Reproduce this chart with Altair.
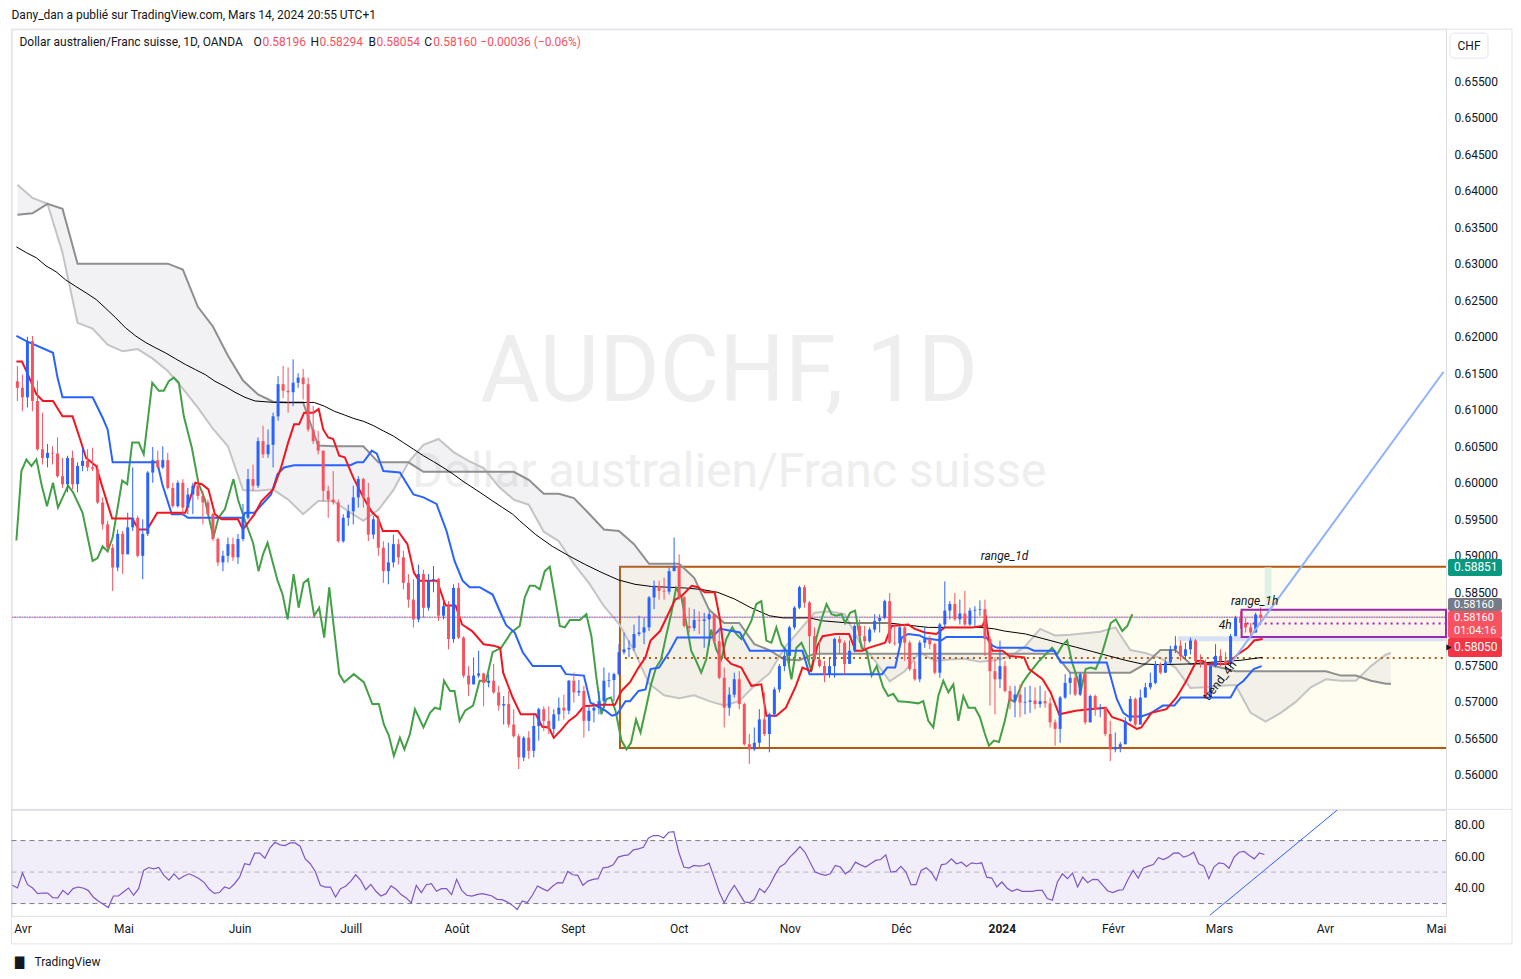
import altair as alt
import pandas as pd

FONT = "Roboto"
TXT = "#131722"

# ---------------- daily candles (bar index 0 = 3 Apr 2023, weekdays only) ----------------
BAR0 = -2
FIRST_OPEN = 0.6139
close = [
    0.6130, 0.6117, 0.6194, 0.6112, 0.6046, 0.6034, 0.6041, 0.6040, 0.6009, 0.5998,
    0.6034, 0.5998, 0.6023, 0.6030, 0.6021, 0.6019, 0.5973, 0.5943, 0.5911, 0.5884,
    0.5930, 0.5902, 0.5939, 0.5952, 0.5900, 0.5930, 0.6014, 0.6031, 0.6021, 0.6031,
    0.5993, 0.5968, 0.6000, 0.5966, 0.5984, 0.5996, 0.5982, 0.5973, 0.5957, 0.5923,
    0.5891, 0.5900, 0.5916, 0.5898, 0.5923, 0.5952, 0.6005, 0.5996, 0.6057, 0.6039,
    0.6052, 0.6091, 0.6135, 0.6126, 0.6124, 0.6137, 0.6144, 0.6135, 0.6073, 0.6057,
    0.6044, 0.5989, 0.5977, 0.5973, 0.5920, 0.5952, 0.5961, 0.5980, 0.6005, 0.5980,
    0.5929, 0.5950, 0.5911, 0.5879, 0.5891, 0.5916, 0.5898, 0.5863, 0.5840, 0.5813,
    0.5875, 0.5829, 0.5866, 0.5868, 0.5818, 0.5831, 0.5786, 0.5856, 0.5788, 0.5736,
    0.5724, 0.5736, 0.5739, 0.5726, 0.5729, 0.5713, 0.5695, 0.5697, 0.5669, 0.5653,
    0.5624, 0.5651, 0.5633, 0.5667, 0.5690, 0.5674, 0.5663, 0.5683, 0.5692, 0.5688,
    0.5729, 0.5713, 0.5715, 0.5674, 0.5688, 0.5692, 0.5701, 0.5729, 0.5730, 0.5738,
    0.5768, 0.5772, 0.5774, 0.5793, 0.5795, 0.5802, 0.5843, 0.5859, 0.5852, 0.5851,
    0.5879, 0.5886, 0.5843, 0.5804, 0.5801, 0.5812, 0.5811, 0.5813, 0.5820, 0.5783,
    0.5733, 0.5692, 0.5710, 0.5731, 0.5697, 0.5642, 0.5635, 0.5644, 0.5676, 0.5656,
    0.5683, 0.5717, 0.5749, 0.5763, 0.5802, 0.5829, 0.5857, 0.5836, 0.5790, 0.5758,
    0.5749, 0.5738, 0.5749, 0.5786, 0.5781, 0.5752, 0.5770, 0.5804, 0.5790, 0.5783,
    0.5799, 0.5811, 0.5815, 0.5838, 0.5781, 0.5780, 0.5802, 0.5781, 0.5745, 0.5731,
    0.5781, 0.5786, 0.5779, 0.5740, 0.5806, 0.5825, 0.5834, 0.5813, 0.5821, 0.5806,
    0.5825, 0.5826, 0.5827, 0.5786, 0.5742, 0.5731, 0.5749, 0.5715, 0.5701, 0.5710,
    0.5699, 0.5700, 0.5702, 0.5697, 0.5701, 0.5698, 0.5672, 0.5663, 0.5706, 0.5726,
    0.5733, 0.5710, 0.5738, 0.5672, 0.5708, 0.5690, 0.5692, 0.5656, 0.5635, 0.5638,
    0.5642, 0.5674, 0.5704, 0.5669, 0.5706, 0.5720, 0.5726, 0.5752, 0.5740, 0.5754,
    0.5772, 0.5777, 0.5763, 0.5772, 0.5784, 0.5756, 0.5754, 0.5706, 0.5749, 0.5763,
    0.5756, 0.5752, 0.5790, 0.5815, 0.5808, 0.5802, 0.5795, 0.58196, 0.58160,
]
high = [
    0.6160, 0.6148, 0.6200, 0.6201, 0.6140, 0.6096, 0.6053, 0.6050, 0.6062, 0.6034,
    0.6037, 0.6044, 0.6028, 0.6048, 0.6046, 0.6048, 0.6025, 0.5980, 0.5948, 0.5916,
    0.5936, 0.5934, 0.5959, 0.6021, 0.5955, 0.5950, 0.6016, 0.6049, 0.6044, 0.6050,
    0.6041, 0.6000, 0.6003, 0.6005, 0.5993, 0.6000, 0.6007, 0.5989, 0.5977, 0.5959,
    0.5925, 0.5907, 0.5925, 0.5925, 0.5930, 0.5971, 0.6019, 0.6025, 0.6062, 0.6078,
    0.6073, 0.6096, 0.6146, 0.6160, 0.6158, 0.6169, 0.6150, 0.6156, 0.6144, 0.6105,
    0.6071, 0.6044, 0.5996, 0.6016, 0.5977, 0.5957, 0.5970, 0.5996, 0.6009, 0.6007,
    0.6000, 0.5955, 0.5955, 0.5920, 0.5918, 0.5929, 0.5923, 0.5907, 0.5875, 0.5868,
    0.5888, 0.5881, 0.5875, 0.5886, 0.5870, 0.5843, 0.5838, 0.5861, 0.5863, 0.5790,
    0.5749, 0.5761, 0.5770, 0.5740, 0.5738, 0.5752, 0.5722, 0.5708, 0.5715, 0.5690,
    0.5656, 0.5653, 0.5660, 0.5685, 0.5692, 0.5694, 0.5694, 0.5690, 0.5706, 0.5710,
    0.5730, 0.5740, 0.5730, 0.5722, 0.5694, 0.5699, 0.5715, 0.5747, 0.5740, 0.5740,
    0.5779, 0.5795, 0.5784, 0.5806, 0.5818, 0.5815, 0.5845, 0.5866, 0.5866, 0.5870,
    0.5884, 0.5925, 0.5902, 0.5845, 0.5829, 0.5827, 0.5824, 0.5822, 0.5824, 0.5820,
    0.5802, 0.5747, 0.5720, 0.5740, 0.5742, 0.5699, 0.5656, 0.5665, 0.5690, 0.5713,
    0.5685, 0.5720, 0.5752, 0.5774, 0.5804, 0.5831, 0.5859, 0.5860, 0.5838, 0.5802,
    0.5784, 0.5756, 0.5761, 0.5788, 0.5790, 0.5784, 0.5784, 0.5806, 0.5813, 0.5804,
    0.5802, 0.5820, 0.5820, 0.5840, 0.5849, 0.5806, 0.5804, 0.5806, 0.5784, 0.5756,
    0.5784, 0.5802, 0.5790, 0.5781, 0.5808, 0.5865, 0.5838, 0.5849, 0.5840, 0.5852,
    0.5829, 0.5831, 0.5839, 0.5840, 0.5790, 0.5761, 0.5784, 0.5756, 0.5722, 0.5722,
    0.5724, 0.5720, 0.5722, 0.5720, 0.5722, 0.5715, 0.5706, 0.5676, 0.5708, 0.5738,
    0.5740, 0.5738, 0.5740, 0.5740, 0.5710, 0.5710, 0.5697, 0.5692, 0.5674, 0.5658,
    0.5645, 0.5679, 0.5708, 0.5706, 0.5717, 0.5726, 0.5740, 0.5756, 0.5754, 0.5758,
    0.5777, 0.5790, 0.5784, 0.5781, 0.5788, 0.5786, 0.5765, 0.5758, 0.5752, 0.5779,
    0.5772, 0.5768, 0.5793, 0.5818, 0.5824, 0.5815, 0.5808, 0.5822, 0.58294,
]
low = [
    0.6112, 0.6098, 0.6103, 0.6098, 0.6044, 0.6025, 0.6021, 0.6025, 0.6007, 0.5993,
    0.5987, 0.5991, 0.5987, 0.6016, 0.6016, 0.6016, 0.5971, 0.5936, 0.5907, 0.5852,
    0.5879, 0.5875, 0.5905, 0.5934, 0.5898, 0.5868, 0.5927, 0.6000, 0.6019, 0.6019,
    0.5991, 0.5966, 0.5966, 0.5955, 0.5957, 0.5957, 0.5977, 0.5943, 0.5955, 0.5920,
    0.5886, 0.5879, 0.5891, 0.5893, 0.5889, 0.5920, 0.5950, 0.5989, 0.5993, 0.6034,
    0.6034, 0.6021, 0.6085, 0.6116, 0.6096, 0.6105, 0.6130, 0.6114, 0.6070, 0.6053,
    0.6039, 0.5975, 0.5952, 0.5970, 0.5918, 0.5918, 0.5941, 0.5943, 0.5966, 0.5966,
    0.5920, 0.5923, 0.5900, 0.5863, 0.5861, 0.5884, 0.5888, 0.5854, 0.5829, 0.5802,
    0.5809, 0.5815, 0.5825, 0.5850, 0.5811, 0.5813, 0.5772, 0.5781, 0.5786, 0.5733,
    0.5708, 0.5724, 0.5733, 0.5694, 0.5720, 0.5711, 0.5688, 0.5669, 0.5665, 0.5651,
    0.5608, 0.5619, 0.5622, 0.5624, 0.5647, 0.5660, 0.5656, 0.5656, 0.5674, 0.5676,
    0.5683, 0.5699, 0.5708, 0.5651, 0.5660, 0.5672, 0.5683, 0.5692, 0.5720, 0.5701,
    0.5736, 0.5765, 0.5761, 0.5770, 0.5790, 0.5779, 0.5797, 0.5827, 0.5840, 0.5840,
    0.5847, 0.5879, 0.5840, 0.5802, 0.5795, 0.5797, 0.5793, 0.5774, 0.5777, 0.5780,
    0.5731, 0.5665, 0.5681, 0.5706, 0.5690, 0.5640, 0.5615, 0.5633, 0.5638, 0.5653,
    0.5631, 0.5679, 0.5713, 0.5742, 0.5752, 0.5799, 0.5827, 0.5829, 0.5756, 0.5756,
    0.5747, 0.5727, 0.5733, 0.5733, 0.5765, 0.5738, 0.5752, 0.5768, 0.5781, 0.5772,
    0.5781, 0.5795, 0.5795, 0.5813, 0.5779, 0.5777, 0.5779, 0.5756, 0.5742, 0.5729,
    0.5727, 0.5774, 0.5772, 0.5738, 0.5733, 0.5802, 0.5813, 0.5811, 0.5806, 0.5804,
    0.5804, 0.5804, 0.5818, 0.5763, 0.5695, 0.5683, 0.5719, 0.5713, 0.5690, 0.5679,
    0.5679, 0.5683, 0.5685, 0.5690, 0.5692, 0.5692, 0.5665, 0.5640, 0.5644, 0.5704,
    0.5710, 0.5708, 0.5708, 0.5669, 0.5672, 0.5681, 0.5679, 0.5653, 0.5619, 0.5631,
    0.5631, 0.5642, 0.5672, 0.5667, 0.5669, 0.5706, 0.5717, 0.5724, 0.5738, 0.5740,
    0.5752, 0.5767, 0.5756, 0.5758, 0.5765, 0.5754, 0.5747, 0.5704, 0.5704, 0.5747,
    0.5749, 0.5745, 0.5747, 0.5790, 0.5800, 0.5795, 0.5790, 0.5795, 0.58054,
]

# RSI (14) per bar, same bars as the candles
rsi = [
    41.6, 39.9, 49.4, 42.0, 39.9, 36.3, 36.7, 36.7, 33.8, 33.6,
    38.4, 35.7, 39.5, 40.5, 39.9, 38.4, 34.2, 31.7, 29.6, 27.5,
    34.8, 34.8, 37.4, 39.9, 35.3, 39.5, 51.1, 52.9, 52.1, 52.9,
    47.9, 44.9, 48.9, 45.4, 47.5, 48.9, 47.5, 45.8, 43.3, 39.1,
    36.5, 37.0, 40.5, 39.5, 42.6, 46.8, 55.3, 54.6, 62.0, 62.0,
    58.8, 65.2, 68.9, 67.3, 66.8, 68.5, 68.5, 66.4, 58.4, 55.3,
    50.4, 41.6, 40.5, 40.5, 34.2, 39.5, 41.0, 44.1, 48.3, 44.7,
    38.8, 42.2, 37.8, 34.8, 36.3, 41.2, 39.1, 35.7, 33.6, 30.4,
    41.6, 37.0, 42.0, 42.6, 37.8, 39.5, 39.5, 35.7, 45.4, 38.4, 35.3,
    34.8, 35.7, 36.3, 35.7, 34.8, 32.7, 32.5, 31.1, 29.0, 26.2,
    31.7, 30.6, 35.3, 41.2, 39.5, 38.0, 41.0, 43.3, 43.1, 50.4,
    48.3, 47.9, 41.6, 44.3, 45.4, 45.8, 52.7, 53.2, 54.6, 59.5,
    60.5, 60.9, 64.1, 64.7, 65.8, 71.7, 73.2, 73.2, 71.7, 75.3, 75.7,
    62.6, 53.2, 52.5, 54.2, 53.8, 54.2, 55.7, 46.8, 37.4, 30.4,
    36.7, 41.6, 36.3, 31.1, 30.6, 32.7, 39.5,
    37.0, 41.6, 47.9, 53.2, 55.3, 59.5, 62.6, 66.2, 62.6, 56.3,
    50.0, 48.9, 47.9, 48.9, 54.2, 53.2, 48.9, 51.1, 56.3, 54.6,
    53.2, 55.3, 57.4, 58.0, 60.9, 50.0, 50.4, 53.6, 50.0, 42.0,
    42.0, 51.1, 52.7, 50.0, 44.7, 54.6, 55.3, 58.4, 55.3, 56.3,
    53.6, 55.9, 55.3, 55.9, 46.8, 46.2, 40.5, 43.7, 39.9, 37.8,
    39.1, 37.8, 37.8, 37.8, 38.4, 38.4, 33.2, 32.1, 43.7, 48.9,
    45.8, 49.4, 40.5, 46.8, 43.3, 45.4, 45.2, 41.6, 38.0, 37.0,
    38.4, 38.8, 45.4, 51.1, 46.2, 52.5, 53.8, 54.8, 59.1, 58.0,
    59.5, 62.0, 62.2, 59.5, 60.5, 62.6, 55.3, 53.8, 45.8, 53.2,
    55.9, 55.3, 52.5, 59.5, 62.6, 63.1, 60.5, 58.4, 62.2, 61.2,
]

# ---------------- indicator lines: (bar, price) ----------------
tenkan = [(-2.2, 0.6166), (-1.1, 0.6166), (-0.2, 0.6153), (1.8, 0.6121), (3.1, 0.6112), (5.1, 0.6112),
          (7, 0.6091), (9, 0.6091), (10.4, 0.6062), (11.7, 0.6034), (13.7, 0.6023), (15, 0.5993),
          (16.9, 0.5951), (20.9, 0.5951), (22.2, 0.5936), (23.9, 0.5936), (25.9, 0.5959), (31.5, 0.5959),
          (33.5, 0.6000), (34.8, 0.5998), (36.1, 0.5991), (37.4, 0.5957), (38.7, 0.5950), (42, 0.5950),
          (43, 0.5936), (44.3, 0.5948), (45.3, 0.5957), (46.7, 0.5975), (49, 0.5991), (50.6, 0.6021),
          (52, 0.6055), (53.2, 0.6080), (54.2, 0.6080), (55.2, 0.6096), (57.1, 0.6096), (58.1, 0.6101),
          (59, 0.6073), (60, 0.6062), (61, 0.6060), (62.2, 0.6037), (63.3, 0.6035), (65, 0.6007),
          (67, 0.5980), (68.6, 0.5961), (69.9, 0.5952), (70.9, 0.5934), (73.9, 0.5934), (75.8, 0.5916),
          (77.1, 0.5877), (78.1, 0.5866), (81.7, 0.5866), (83.4, 0.5832), (85.4, 0.5832), (86.7, 0.5806),
          (88.7, 0.5797), (91, 0.5779), (93, 0.5777), (94.3, 0.5774), (94.9, 0.5740), (95.5, 0.5729),
          (96.8, 0.5706), (98.4, 0.5683), (101.4, 0.5683), (102.7, 0.5666), (104, 0.5665), (105, 0.5651),
          (106.4, 0.5661), (108, 0.5674), (109.4, 0.5681), (111, 0.5694), (114.6, 0.5696), (117.2, 0.5696),
          (118.5, 0.5715), (120.2, 0.5727), (121.9, 0.5747), (123.3, 0.5761), (124.3, 0.5784), (126.2, 0.5797),
          (127.8, 0.5820), (129.2, 0.5840), (130.5, 0.5845), (132.5, 0.5859), (133.8, 0.5857), (135.1, 0.5850),
          (137.1, 0.5850), (138.1, 0.5815), (139.1, 0.5761), (140.4, 0.5752), (142.4, 0.5747), (144.4, 0.5722),
          (146.4, 0.5724), (147.4, 0.5681), (149.4, 0.5681), (151.3, 0.5692), (153.3, 0.5722), (154.6, 0.5747),
          (156.3, 0.5742), (157.6, 0.5777), (158.6, 0.5790), (161.2, 0.5793), (163.9, 0.5793), (165.2, 0.5770),
          (166.5, 0.5770), (167.8, 0.5774), (171.1, 0.5781), (172.4, 0.5804), (175.7, 0.5806), (177, 0.5800),
          (179, 0.5795), (181.3, 0.5793), (183, 0.5802), (188.5, 0.5802), (190.5, 0.5804), (191.2, 0.5815),
          (191.8, 0.5784), (192.5, 0.5770), (194.5, 0.5770), (195.8, 0.5763), (198.8, 0.5761), (199.8, 0.5745),
          (202.5, 0.5731), (204.1, 0.5713), (205.8, 0.5683), (209.1, 0.5688), (211.8, 0.5690), (215.1, 0.5692),
          (216.4, 0.5679), (218.6, 0.5674), (221.3, 0.5663), (222.2, 0.5665), (224.2, 0.5685), (227.2, 0.5690),
          (229.2, 0.5706), (231.2, 0.5729), (233.2, 0.5756), (234.5, 0.5756), (235.2, 0.5752), (239.4, 0.5752),
          (241.4, 0.5765), (243.4, 0.5774), (244.7, 0.5784), (246.4, 0.5786)]
kijun = [(-2.2, 0.6201), (-0.2, 0.6194), (5.1, 0.6178), (6, 0.6144), (7, 0.6117), (13, 0.6117), (15, 0.6089),
         (16, 0.6073), (17, 0.6028), (25.9, 0.6028), (26.9, 0.5998), (28.8, 0.5957), (31, 0.5957), (32, 0.5952),
         (43, 0.5952), (43.4, 0.5959), (45.3, 0.5959), (48.6, 0.5984), (49.9, 0.6012), (51.2, 0.6021),
         (53.2, 0.6024), (64.4, 0.6024), (65.7, 0.6028), (67, 0.6028), (68.7, 0.6044), (69.7, 0.6040),
         (71, 0.6016), (74.3, 0.6014), (77, 0.5984), (79, 0.5980), (81.6, 0.5971), (83.6, 0.5934),
         (85.2, 0.5893), (86.8, 0.5866), (88.2, 0.5857), (90.2, 0.5857), (92.8, 0.5847), (94.5, 0.5820),
         (95.5, 0.5805), (97.2, 0.5795), (98.8, 0.5768), (100.8, 0.5749), (106.4, 0.5749), (107.4, 0.5738),
         (111, 0.5736), (112.3, 0.5699), (115.3, 0.5688), (116.6, 0.5681), (117.6, 0.5683), (119.3, 0.5701),
         (120.2, 0.5701), (121.9, 0.5715), (123.3, 0.5717), (124.3, 0.5745), (126, 0.5747), (128, 0.5768),
         (129.6, 0.5788), (136.5, 0.5788), (138.2, 0.5800), (142.1, 0.5795), (144.1, 0.5770), (154.6, 0.5770),
         (156, 0.5738), (170.5, 0.5738), (171.5, 0.5747), (173.1, 0.5747), (174.4, 0.5788), (175.7, 0.5793),
         (178, 0.5791), (179, 0.5787), (182.3, 0.5784), (183.3, 0.5789), (191.2, 0.5789), (192.5, 0.5777),
         (193.5, 0.5774), (199.5, 0.5774), (200.8, 0.5770), (204.8, 0.5770), (206.1, 0.5754), (215.3, 0.5754),
         (217.3, 0.5704), (218.6, 0.5685), (219.6, 0.5680), (222.2, 0.5680), (224.2, 0.5685), (226.5, 0.5695),
         (228.8, 0.5695), (230.1, 0.5706), (240, 0.5706), (241.3, 0.5722), (242.6, 0.5729), (244.6, 0.5745),
         (246.2, 0.5749)]
chikou = [(-2.2, 0.5921), (-1.2, 0.6016), (-0.2, 0.6032), (0.8, 0.6023), (1.8, 0.6032), (2.8, 0.5998),
          (3.9, 0.5968), (5.1, 0.6000), (6.1, 0.5966), (8.1, 0.5996), (9.1, 0.5987), (11, 0.5959),
          (13, 0.5893), (14, 0.5897), (15, 0.5913), (16, 0.5906), (17, 0.5925), (18.9, 0.6003),
          (19.9, 0.5998), (20.9, 0.6055), (22.2, 0.6055), (23.2, 0.6039), (24.9, 0.6137), (26.2, 0.6126),
          (27.2, 0.6126), (28.2, 0.6139), (29.2, 0.6144), (30.2, 0.6137), (31.2, 0.6091), (32.8, 0.6048),
          (34.1, 0.6000), (35.4, 0.5977), (37.1, 0.5925), (38.1, 0.5952), (39.4, 0.5964), (41.1, 0.6005),
          (42, 0.5977), (43.4, 0.5948), (45, 0.5918), (46.1, 0.5879), (47, 0.5902), (47.9, 0.5918),
          (49.2, 0.5884), (49.9, 0.5866), (50.9, 0.5847), (51.9, 0.5813), (53.1, 0.5875), (54.1, 0.5829),
          (55.1, 0.5863), (56, 0.5868), (57.2, 0.5818), (58.2, 0.5829), (59.2, 0.5788), (60.2, 0.5857),
          (62.2, 0.5738), (63.2, 0.5727), (65.1, 0.5738), (67.1, 0.5727), (68.8, 0.5697), (70.1, 0.5697),
          (71.1, 0.5669), (72.1, 0.5654), (73.1, 0.5626), (74.3, 0.5651), (75.2, 0.5635), (76.3, 0.5656),
          (77.3, 0.5690), (79, 0.5665), (80.3, 0.5685), (81.3, 0.5692), (82.3, 0.5690), (83.1, 0.5729),
          (84.3, 0.5715), (85.2, 0.5715), (86.2, 0.5674), (87.3, 0.5688), (88.9, 0.5695), (90.2, 0.5729),
          (91.5, 0.5729), (92.8, 0.5768), (94.5, 0.5774), (96.5, 0.5795), (98.2, 0.5804), (99.2, 0.5843),
          (100.2, 0.5859), (101.2, 0.5859), (102.2, 0.5854), (103.2, 0.5879), (104.2, 0.5885), (105.2, 0.5845),
          (106.2, 0.5804), (107.2, 0.5802), (108.2, 0.5812), (110.2, 0.5812), (111.5, 0.5820), (112.5, 0.5790),
          (113.5, 0.5733), (114.5, 0.5683), (115.5, 0.5704), (116.4, 0.5706), (117.3, 0.5688), (118.5, 0.5647),
          (119.5, 0.5635), (120.4, 0.5644), (121.4, 0.5676), (122.3, 0.5658), (123.4, 0.5692), (124.4, 0.5724),
          (125.4, 0.5747), (126.4, 0.5758), (127.4, 0.5790), (128.4, 0.5820), (129.4, 0.5856), (130.4, 0.5845),
          (131.4, 0.5809), (132.4, 0.5770), (133.4, 0.5756), (134.4, 0.5740), (135.4, 0.5758), (136.4, 0.5799),
          (137.4, 0.5772), (138.4, 0.5758), (139.4, 0.5786), (140.6, 0.5802), (141.4, 0.5793), (142.4, 0.5786),
          (143.4, 0.5797), (144.4, 0.5811), (145.4, 0.5834), (146.4, 0.5838), (147.4, 0.5784), (148.4, 0.5781),
          (149.4, 0.5802), (150.4, 0.5779), (151.4, 0.5770), (152.4, 0.5731), (153.4, 0.5774), (154.4, 0.5781),
          (155.4, 0.5765), (156.4, 0.5742), (157.4, 0.5788), (158.4, 0.5813), (159.4, 0.5834), (160.4, 0.5820),
          (161.4, 0.5818), (162.4, 0.5820), (163.1, 0.5808), (164.1, 0.5822), (165.1, 0.5825), (166.4, 0.5774),
          (167.4, 0.5770), (168.4, 0.5736), (169.4, 0.5749), (170.7, 0.5720), (171.7, 0.5708), (172.7, 0.5711),
          (173.7, 0.5701), (175.7, 0.5700), (177.7, 0.5698), (178.7, 0.5701), (179.7, 0.5674), (180.7, 0.5665),
          (181.7, 0.5708), (182.7, 0.5729), (183.7, 0.5713), (184.7, 0.5724), (185.7, 0.5674), (186.7, 0.5708),
          (187.7, 0.5692), (189, 0.5692), (190, 0.5679), (191, 0.5656), (191.8, 0.5640), (192.8, 0.5647),
          (193.8, 0.5645), (194.9, 0.5672), (195.9, 0.5704), (196.9, 0.5700), (197.5, 0.5710), (198.5, 0.5726),
          (199.5, 0.5736), (200.5, 0.5745), (201.8, 0.5756), (203.1, 0.5765), (204.4, 0.5774), (205.4, 0.5765),
          (206.4, 0.5777), (207.4, 0.5784), (208.4, 0.5754), (209.4, 0.5733), (210.1, 0.5715), (211.1, 0.5745),
          (212.1, 0.5747), (213.1, 0.5745), (214.1, 0.5761), (215.1, 0.5784), (216.1, 0.5808), (217.1, 0.5813),
          (218.4, 0.5797), (219.4, 0.5804), (220.4, 0.5820)]
ma200 = [(-2.2, 0.6323), (-0.2, 0.6315), (1.8, 0.6308), (3.7, 0.6297), (5.7, 0.6289), (7.6, 0.6278),
         (9.6, 0.6269), (11.7, 0.6260), (13.7, 0.6251), (15.6, 0.6239), (17.6, 0.6226), (19.6, 0.6212),
         (21.6, 0.6201), (23.6, 0.6192), (25.5, 0.6185), (27.5, 0.6178), (29.5, 0.6170), (31.5, 0.6162),
         (33.5, 0.6155), (35.5, 0.6148), (37.4, 0.6139), (39.4, 0.6132), (41.4, 0.6124), (43.4, 0.6117),
         (45.4, 0.6112), (49.3, 0.6110), (57.2, 0.6110), (59.2, 0.6105), (61.2, 0.6098), (63.2, 0.6093),
         (65.1, 0.6088), (67.1, 0.6084), (69.1, 0.6078), (71, 0.6071), (73, 0.6064), (75, 0.6055),
         (77, 0.6046), (79, 0.6037), (81, 0.6029), (82.9, 0.6021), (84.9, 0.6012), (86.9, 0.6002),
         (88.9, 0.5993), (90.9, 0.5984), (92.8, 0.5975), (94.8, 0.5966), (96.8, 0.5957), (98.2, 0.5948),
         (101.4, 0.5929), (104.7, 0.5913), (108, 0.5900), (111.3, 0.5888), (114.6, 0.5877), (117.9, 0.5867),
         (121.2, 0.5861), (124.5, 0.5858), (127.8, 0.5857), (131.1, 0.5856), (134.4, 0.5854), (137.7, 0.5850),
         (141, 0.5841), (144.3, 0.5829), (148, 0.5818), (150.7, 0.5815), (156, 0.5815), (158.6, 0.5811),
         (163.9, 0.5808), (171.8, 0.5808), (174.4, 0.5806), (177, 0.5804), (179.7, 0.5802), (190.2, 0.5802),
         (192.9, 0.5800), (194.9, 0.5797), (199.1, 0.5793), (202.4, 0.5787), (205.7, 0.5781), (209.1, 0.5775),
         (212.4, 0.5769), (215.7, 0.5763), (219, 0.5757), (222.3, 0.5752), (225.6, 0.5751), (232.2, 0.5752),
         (235.5, 0.5754), (242.1, 0.5757), (246.4, 0.5761)]

# Ichimoku cloud (leading spans, shifted forward), read every 3 bars
cloud_x = list(range(-2, 272, 3)) + [272]
span_a = [0.6408, 0.6390, 0.6382, 0.6315, 0.6219, 0.6211, 0.6189, 0.6180, 0.6183, 0.6170,
          0.6153, 0.6129, 0.6103, 0.6074, 0.6050, 0.5990, 0.5989, 0.5991, 0.5977, 0.5957,
          0.5975, 0.5975, 0.5961, 0.5948, 0.5963, 0.5990, 0.6028, 0.6052, 0.6060, 0.6042,
          0.6030, 0.6020, 0.5995, 0.5977, 0.5970, 0.5933, 0.5920, 0.5889, 0.5863, 0.5831,
          0.5807, 0.5770, 0.5725, 0.5709, 0.5705, 0.5709, 0.5701, 0.5695, 0.5701, 0.5722,
          0.5739, 0.5774, 0.5798, 0.5822, 0.5824, 0.5820, 0.5782, 0.5757, 0.5728, 0.5742,
          0.5768, 0.5756, 0.5758, 0.5759, 0.5755, 0.5757, 0.5762, 0.5776, 0.5800, 0.5791,
          0.5792, 0.5794, 0.5796, 0.5802, 0.5771, 0.5767, 0.5760, 0.5747, 0.5719, 0.5720,
          0.5722, 0.5723, 0.5685, 0.5673, 0.5685, 0.5700, 0.5720, 0.5731, 0.5729, 0.5729,
          0.5749, 0.5765, 0.5767]
span_b = [0.6367, 0.6369, 0.6382, 0.6375, 0.6300, 0.6300, 0.6300, 0.6300, 0.6300, 0.6300,
          0.6300, 0.6292, 0.6241, 0.6214, 0.6174, 0.6140, 0.6121, 0.6111, 0.6110, 0.6110,
          0.6051, 0.6050, 0.6050, 0.6050, 0.6028, 0.6028, 0.6028, 0.6015, 0.6015, 0.6015,
          0.6015, 0.6015, 0.6015, 0.6015, 0.6004, 0.5985, 0.5985, 0.5979, 0.5958, 0.5936,
          0.5934, 0.5916, 0.5889, 0.5889, 0.5889, 0.5870, 0.5826, 0.5808, 0.5808, 0.5779,
          0.5771, 0.5758, 0.5757, 0.5766, 0.5766, 0.5766, 0.5766, 0.5766, 0.5766, 0.5766,
          0.5766, 0.5766, 0.5766, 0.5766, 0.5766, 0.5766, 0.5766, 0.5766, 0.5766, 0.5766,
          0.5740, 0.5740, 0.5740, 0.5740, 0.5740, 0.5752, 0.5771, 0.5771, 0.5752, 0.5752,
          0.5747, 0.5742, 0.5742, 0.5742, 0.5742, 0.5742, 0.5742, 0.5742, 0.5736, 0.5736,
          0.5729, 0.5725, 0.5725]

# drawings
range_1d = (118.2, 0.5637, 0.5885)
range_1h = (242.2, 0.5789, 0.5826)
zone_4h = (229.5, 0.5783, 0.5790)
level_dotted = 0.5760
last_price = 0.5816
trend_line = [(240.4, 0.5756), (282.5, 0.6152)]
rsi_trend = [(235.2, 22.6), (260.5, 89.6)]

month_bars = [0, 20, 43, 65, 86, 109, 130, 152, 174, 194, 216, 237, 258, 280]
month_names = ["Avr", "Mai", "Juin", "Juill", "Août", "Sept", "Oct", "Nov", "Déc", "2024", "Févr", "Mars", "Avr", "Mai"]
price_ticks = [0.560, 0.565, 0.570, 0.575, 0.580, 0.585, 0.590, 0.595, 0.600, 0.605,
               0.610, 0.615, 0.620, 0.625, 0.630, 0.635, 0.640, 0.645, 0.650, 0.655]
rsi_ticks = [40, 60, 80]

# ---------------- tables ----------------
n = len(close)
opens = [FIRST_OPEN] + close[:-1]
candles = pd.DataFrame({
    "i": list(range(BAR0, BAR0 + n)), "o": opens, "h": high, "l": low, "c": close,
})
candles["dir"] = ["up" if c >= o else "down" for o, c in zip(opens, close)]

def pts(p):
    return pd.DataFrame({"x": [a for a, _ in p], "y": [b for _, b in p]})

cloud = pd.DataFrame({"x": cloud_x, "a": span_a, "b": span_b})
rsi_df = pd.DataFrame({"i": list(range(BAR0, BAR0 + n)), "r": rsi})
one = pd.DataFrame({"k": [0]})

W, H, RH = 1435, 780, 106
XD = [-2.18, 281.98]
xs = alt.Scale(domain=XD, nice=False, zero=False)
ys = alt.Scale(domain=[0.55535, 0.66211], nice=False, zero=False)
yaxis = alt.Axis(orient="right", values=price_ticks, format=".5f", labelFont=FONT, labelFontSize=12,
                 labelColor=TXT, labelPadding=8, ticks=False, domain=False, grid=False, title=None,
                 labelOverlap=False)

def X(f):
    return alt.X(f, type="quantitative", scale=xs, axis=None)

def Y(f):
    return alt.Y(f, type="quantitative", scale=ys, axis=yaxis)

def XD_(v):
    return alt.X(datum=v, type="quantitative", scale=xs, axis=None)

def YD_(v):
    return alt.Y(datum=v, type="quantitative", scale=ys, axis=yaxis)

def txt(text, x, y, **kw):
    base = dict(font=FONT, fontSize=12, color=TXT, align="left", baseline="middle")
    base.update(kw)
    return alt.Chart(one).mark_text(text=text, **base).encode(x=alt.value(x), y=alt.value(y))

def box(x1, x2, y1, y2, **kw):
    return alt.Chart(one).mark_rect(**kw).encode(x=alt.value(x1), x2=alt.value(x2), y=alt.value(y1), y2=alt.value(y2))

layers = []
# watermark
layers.append(txt("AUDCHF, 1D", 718, 344, fontSize=92, color="#eeeeee", align="center"))
layers.append(txt("Dollar australien/Franc suisse", 718, 444, fontSize=48, color="#eeeeee", align="center"))
# range_1d box
layers.append(alt.Chart(one).mark_rect(fill="#fffdef", stroke="#b35a10", strokeWidth=2, clip=True).encode(
    x=XD_(range_1d[0]), x2=alt.value(W + 12), y=YD_(range_1d[1]), y2=alt.datum(range_1d[2])))
# cloud
layers.append(alt.Chart(cloud).mark_area(color="#9a9ab4", opacity=0.13, clip=True).encode(
    x=X("x"), y=Y("a"), y2="b"))
layers.append(alt.Chart(cloud).mark_line(color="#c4c4c4", strokeWidth=2, clip=True).encode(x=X("x"), y=Y("a")))
layers.append(alt.Chart(cloud).mark_line(color="#8f8f8f", strokeWidth=2, clip=True).encode(x=X("x"), y=Y("b")))
# dotted levels
layers.append(alt.Chart(one).mark_rule(color="#b35a10", strokeWidth=2, strokeDash=[2, 4]).encode(
    x=XD_(range_1d[0] + 1), x2=alt.value(W), y=YD_(level_dotted)))
layers.append(alt.Chart(one).mark_rule(color="#f23645", strokeWidth=1, strokeDash=[2, 3]).encode(
    x=alt.value(0), x2=alt.value(W), y=YD_(last_price)))
layers.append(alt.Chart(one).mark_rule(color="#2962ff", strokeWidth=1, strokeDash=[2, 3], strokeDashOffset=2.5).encode(
    x=alt.value(0), x2=alt.value(W), y=YD_(last_price)))
# 4h zone, range_1h box, long-position stub
layers.append(alt.Chart(one).mark_rect(fill="#d9e1f6", clip=True).encode(
    x=XD_(zone_4h[0]), x2=alt.value(W + 10), y=YD_(zone_4h[1]), y2=alt.datum(zone_4h[2])))
layers.append(alt.Chart(one).mark_rect(fill="#e0f2e8").encode(
    x=XD_(246.8), x2=alt.datum(248.2), y=YD_(0.5827), y2=alt.datum(0.5884)))
# lines
layers.append(alt.Chart(pts(ma200)).mark_line(color="#000000", strokeWidth=1, clip=True).encode(x=X("x"), y=Y("y")))
layers.append(alt.Chart(pts(chikou)).mark_line(color="#43a047", strokeWidth=2, clip=True).encode(x=X("x"), y=Y("y")))
layers.append(alt.Chart(pts(kijun)).mark_line(color="#2962ff", strokeWidth=2, clip=True).encode(x=X("x"), y=Y("y")))
layers.append(alt.Chart(pts(tenkan)).mark_line(color="#f2141e", strokeWidth=2, clip=True).encode(x=X("x"), y=Y("y")))
# candles
cscale = alt.Scale(domain=["up", "down"], range=["#2962ff", "#f7525f"])
layers.append(alt.Chart(candles).mark_rule(strokeWidth=1).encode(
    x=X("i"), y=Y("l"), y2="h", color=alt.Color("dir:N", scale=cscale, legend=None)))
layers.append(alt.Chart(candles).mark_bar(size=3).encode(
    x=X("i"), y=Y("o"), y2="c", color=alt.Color("dir:N", scale=cscale, legend=None)))
# range_1h box on top
layers.append(alt.Chart(one).mark_rect(fill="#9c27b0", fillOpacity=0.05, stroke="#9c27b0", strokeWidth=2).encode(
    x=XD_(range_1h[0]), x2=alt.value(W), y=YD_(range_1h[1]), y2=alt.datum(range_1h[2])))
layers.append(alt.Chart(one).mark_rule(color="#9c27b0", strokeWidth=2, strokeDash=[2, 4]).encode(
    x=XD_(range_1h[0] + 1), x2=alt.value(W), y=YD_((range_1h[1] + range_1h[2]) / 2)))
# trend line
layers.append(alt.Chart(pts(trend_line)).mark_line(color="#8fb3f9", strokeWidth=2, clip=True).encode(x=X("x"), y=Y("y")))
# drawing labels
def dtext(t, x, y, **kw):
    base = dict(font=FONT, fontSize=12, color=TXT, fontStyle="italic", align="center", baseline="middle")
    base.update(kw)
    return alt.Chart(one).mark_text(text=t, **base).encode(x=XD_(x), y=YD_(y))
layers.append(dtext("range_1d", 194.9, 0.5900))
layers.append(dtext("range_1h", 244.8, 0.5838))
layers.append(dtext("4h", 240.2, 0.5805, align="right"))
layers.append(dtext("trend_4h", 237.8, 0.5729, angle=308, fontStyle="normal"))

# header
layers.append(txt("Dany_dan a publié sur TradingView.com, Mars 14, 2024 20:55 UTC+1", 0, -14))
layers.append(txt("Dollar australien/Franc suisse, 1D, OANDA", 8, 13))
for s, x, col in [("O", 242, TXT), ("0.58196", 251, "#f7525f"), ("H", 299, TXT), ("0.58294", 308, "#f7525f"),
                  ("B", 357, TXT), ("0.58054", 365, "#f7525f"), ("C", 413, TXT), ("0.58160", 422, "#f7525f"),
                  ("\u22120.00036 (\u22120.06%)", 469, "#f7525f")]:
    layers.append(txt(s, x, 13, color=col))
# CHF button
layers.append(box(1439, 1477, 4, 29, fill="#ffffff", stroke="#e0e3eb", cornerRadius=4))
layers.append(txt("CHF", 1458, 16.5, align="center"))
# price-scale labels
layers.append(box(1437, 1491, 530, 547, fill="#089981", cornerRadius=2))
layers.append(txt("0.58851", 1443, 538.5, color="#ffffff"))
layers.append(box(1437, 1491, 569, 582, fill="#787b86", cornerRadius=2))
layers.append(txt("0.58160", 1443, 576, color="#ffffff", fontSize=11))
layers.append(box(1437, 1491, 582, 609, fill="#f7525f", cornerRadius=2))
layers.append(txt("0.58160", 1443, 589.5, color="#ffffff", fontSize=11))
layers.append(txt("01:04:16", 1443, 602, color="#ffffff", fontSize=11))
layers.append(box(1437, 1491, 609, 628, fill="#f23645", cornerRadius=2))
layers.append(txt("0.58050", 1443, 618.5, color="#ffffff"))
layers.append(alt.Chart(one).mark_point(shape="triangle-right", filled=True, color="#131722", size=40, opacity=1).encode(
    x=alt.value(1438), y=alt.value(618.5)))
# frame / separators / footer
layers.append(box(0, 1501, 0, 915, fill=None, stroke="#e0e3eb", strokeWidth=1))
layers.append(alt.Chart(one).mark_rule(color="#e0e3eb", strokeWidth=1).encode(
    x=alt.value(0), x2=alt.value(1501), y=alt.value(780.5)))
layers.append(txt("TradingView", 23, 933, fontSize=12))
layers.append(txt("\u2587", 4, 933, fontSize=12, color="#131722"))

main = alt.layer(*layers).properties(width=W, height=H)

# ---------------- RSI pane ----------------
rxs = alt.Scale(domain=XD, nice=False, zero=False)
rys = alt.Scale(domain=[22.2, 89.5], nice=False, zero=False)
names_js = "[" + ",".join("'%s'" % m for m in month_names) + "]"
bars_js = "[" + ",".join(str(b) for b in month_bars) + "]"
xaxis = alt.Axis(values=month_bars, labelExpr=f"{names_js}[indexof({bars_js}, datum.value)]",
                 labelFont=FONT, labelFontSize=12, labelColor=TXT, labelPadding=8, ticks=False,
                 domain=False, grid=False, title=None, labelFlush=False, labelOverlap=False, labelBound=False,
                 labelFontWeight={"condition": {"test": "datum.value == 194", "value": "bold"}, "value": "normal"})
ryaxis = alt.Axis(orient="right", values=rsi_ticks, format=".2f", labelFont=FONT, labelFontSize=12,
                  labelColor=TXT, labelPadding=8, ticks=False, domain=False, grid=False, title=None)

def RX(f):
    return alt.X(f, type="quantitative", scale=rxs, axis=xaxis)

def RY(f):
    return alt.Y(f, type="quantitative", scale=rys, axis=ryaxis)

def RYD(v):
    return alt.Y(datum=v, type="quantitative", scale=rys, axis=ryaxis)

rl = []
rl.append(alt.Chart(one).mark_rect(color="#7e57c2", opacity=0.1).encode(
    x=alt.value(0), x2=alt.value(W), y=RYD(30), y2=alt.datum(70)))
for lv, op in [(70, 1.0), (50, 0.5), (30, 1.0)]:
    rl.append(alt.Chart(one).mark_rule(color="#787b86", strokeDash=[5, 4], strokeWidth=1, opacity=op).encode(
        x=alt.value(0), x2=alt.value(W), y=RYD(lv)))
rl.append(alt.Chart(rsi_df).mark_line(color="#7e57c2", strokeWidth=1.2).encode(x=RX("i"), y=RY("r")))
rl.append(alt.Chart(pts(rsi_trend)).mark_line(color="#2962ff", strokeWidth=1, clip=True).encode(x=RX("x"), y=RY("y")))

rsi_chart = alt.layer(*rl).properties(width=W, height=RH)

chart = alt.vconcat(main, rsi_chart, spacing=1, bounds="flush").properties(
    padding={"left": 1.5, "top": 0, "right": 0, "bottom": 0}
).configure_view(stroke=None).configure(background="#ffffff")

chart.save("out.html", embed_options={"renderer": "svg", "actions": False})
